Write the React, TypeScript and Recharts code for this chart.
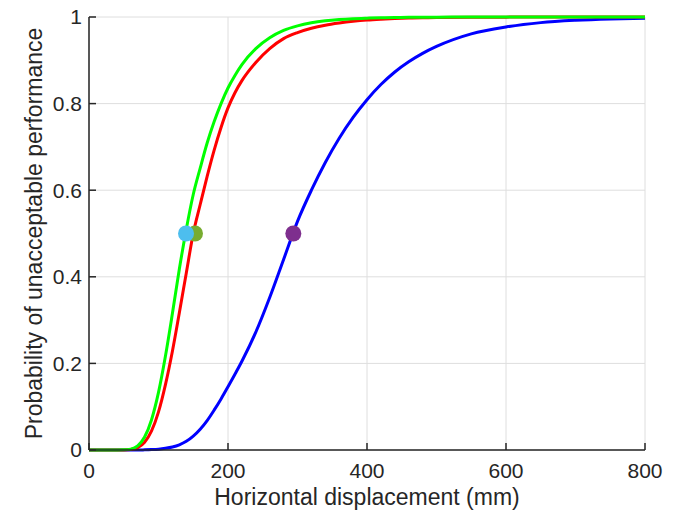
import React from "react";
import {
  ComposedChart,
  Line,
  Scatter,
  XAxis,
  YAxis,
  CartesianGrid,
  Label,
} from "recharts";

// displacement grid (mm)
const displacement = [
  0, 20, 40, 50, 60, 70, 80, 90, 100, 110, 120, 130, 140, 150, 160, 170, 180,
  190, 200, 210, 220, 240, 260, 280, 300, 320, 340, 360, 380, 400, 420, 440,
  460, 480, 500, 550, 600, 650, 700, 750, 800,
];

const greenCurve = [
  0, 0, 0, 0.0003, 0.002, 0.0096, 0.03, 0.07, 0.133, 0.217, 0.315, 0.418,
  0.51, 0.59, 0.651, 0.709, 0.758, 0.8, 0.836, 0.865, 0.89, 0.927, 0.952,
  0.969, 0.9795, 0.9866, 0.9912, 0.9942, 0.9962, 0.9974, 0.9983, 0.9989,
  0.9993, 0.9995, 0.9997, 1, 1, 1, 1, 1, 1,
];

const redCurve = [
  0, 0, 0, 0.0001, 0.001, 0.0055, 0.018, 0.044, 0.088, 0.151, 0.228, 0.317,
  0.409, 0.5, 0.567, 0.632, 0.692, 0.745, 0.79, 0.825, 0.853, 0.895, 0.927,
  0.95, 0.964, 0.974, 0.981, 0.986, 0.99, 0.993, 0.995, 0.9965, 0.9975,
  0.9982, 0.9987, 0.9994, 0.9997, 1, 1, 1, 1,
];

const blueCurve = [
  0, 0, 0, 0, 0, 0, 0.0004, 0.001, 0.002, 0.004, 0.007, 0.012, 0.02, 0.032,
  0.048, 0.068, 0.092, 0.118, 0.146, 0.175, 0.205, 0.272, 0.352, 0.44, 0.528,
  0.6, 0.664, 0.72, 0.768, 0.809, 0.844, 0.873, 0.8965, 0.916, 0.932, 0.961,
  0.977, 0.987, 0.9924, 0.9956, 0.9974,
];

// median markers
const cyanPoint = [{ x: 139.6, y: 0.5 }];
const olivePoint = [{ x: 152.5, y: 0.5 }];
const purplePoint = [{ x: 294, y: 0.5 }];

const xTicks = [0, 200, 400, 600, 800];
const yTicks = [0, 0.2, 0.4, 0.6, 0.8, 1];

const data = displacement.map((x, i) => ({
  x,
  green: greenCurve[i],
  red: redCurve[i],
  blue: blueCurve[i],
}));

const axisColor = "#262626";
const font = "'Liberation Sans', Arial, sans-serif";

const dot = (fill: string) => (props: any) =>
  <circle cx={props.cx} cy={props.cy} r={8} fill={fill} />;

export default function App() {
  return (
    <div style={{ position: "absolute", left: 0, top: 0, fontFamily: font }}>
      <ComposedChart
        width={679}
        height={512}
        data={data}
        margin={{ top: 17, right: 34, bottom: 0, left: 10 }}
      >
        <CartesianGrid stroke="#dedede" strokeWidth={1} />
        <XAxis
          dataKey="x"
          type="number"
          domain={[0, 800]}
          ticks={xTicks}
          height={62}
          tickSize={-7}
          tickMargin={20}
          stroke={axisColor}
          strokeWidth={1.5}
          tick={{ fill: axisColor, fontSize: 21, fontFamily: font }}
        >
          <Label
            value="Horizontal displacement (mm)"
            position="insideBottom"
            offset={7}
            style={{ fill: axisColor, fontSize: 23, fontFamily: font }}
          />
        </XAxis>
        <XAxis
          xAxisId="top"
          orientation="top"
          type="number"
          domain={[0, 800]}
          ticks={xTicks}
          height={0}
          tickSize={-7}
          tick={false}
          stroke={axisColor}
          strokeWidth={1.5}
        />
        <YAxis
          type="number"
          domain={[0, 1]}
          ticks={yTicks}
          width={79}
          tickSize={-7}
          tickMargin={14}
          stroke={axisColor}
          strokeWidth={1.5}
          tick={{ fill: axisColor, fontSize: 21, fontFamily: font }}
        >
          <Label
            value="Probability of unacceptable performance"
            angle={-90}
            position="center"
            dx={-16}
            style={{ fill: axisColor, fontSize: 23, fontFamily: font }}
          />
        </YAxis>
        <YAxis
          yAxisId="right"
          orientation="right"
          type="number"
          domain={[0, 1]}
          ticks={yTicks}
          width={0}
          tickSize={-7}
          tick={false}
          stroke={axisColor}
          strokeWidth={1.5}
        />
        <Line
          dataKey="blue"
          type="monotone"
          stroke="#0000ff"
          strokeWidth={3}
          dot={false}
          isAnimationActive={false}
        />
        <Line
          dataKey="red"
          type="monotone"
          stroke="#ff0000"
          strokeWidth={3}
          dot={false}
          isAnimationActive={false}
        />
        <Line
          dataKey="green"
          type="monotone"
          stroke="#00ff00"
          strokeWidth={3}
          dot={false}
          isAnimationActive={false}
        />
        <Scatter
          data={purplePoint}
          dataKey="y"
          shape={dot("#7e2f8e")}
          isAnimationActive={false}
        />
        <Scatter
          data={olivePoint}
          dataKey="y"
          shape={dot("#77ac30")}
          isAnimationActive={false}
        />
        <Scatter
          data={cyanPoint}
          dataKey="y"
          shape={dot("#4dbeee")}
          isAnimationActive={false}
        />
      </ComposedChart>
    </div>
  );
}
